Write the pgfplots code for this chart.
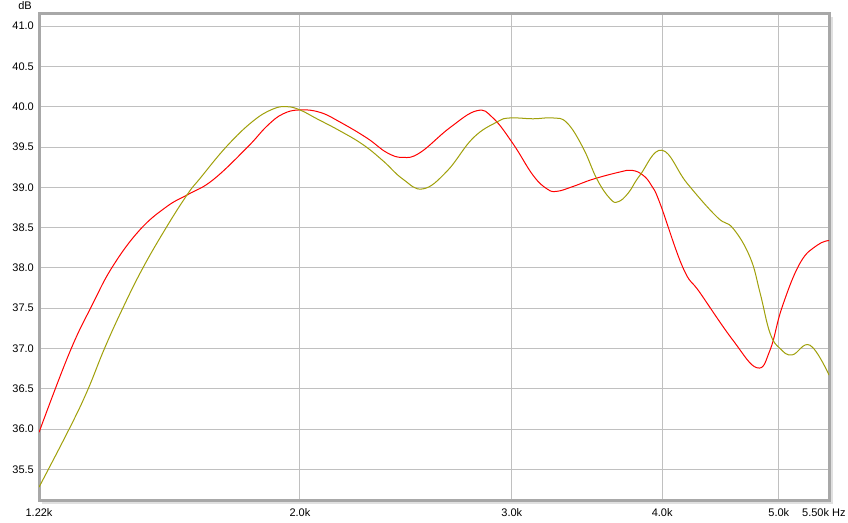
\documentclass[border=0pt]{standalone}
\usepackage{pgfplots}
\pgfplotsset{compat=1.18}
\usepackage{fontspec}
\setmainfont{Liberation Sans}
\definecolor{olivec}{RGB}{160,160,10}
\definecolor{gridc}{RGB}{192,192,192}
\definecolor{framec}{RGB}{168,168,168}
\begin{document}
\fontsize{11}{13}\selectfont
\begin{tikzpicture}
\useasboundingbox (-39pt,-22pt) rectangle (809pt,500pt);
% shadow of frame
\fill[black!12] (3pt,-4pt) rectangle (794pt,483pt);
\fill[white] (0pt,0pt) rectangle (790pt,486pt);
\begin{axis}[
  at={(0pt,0pt)}, anchor=south west,
  scale only axis, width=790pt, height=486pt,
  xmode=log, xmin=1214, xmax=5505,
  ymin=35.12, ymax=41.15,
  xtick={1214,2000,3000,4000,5000,5505},
  xticklabels={1.22k,2.0k,3.0k,4.0k,5.0k,{\makebox[0pt][r]{5.50k}\makebox[0pt][l]{\ Hz}}},
  ytick={35.5,36,36.5,37,37.5,38,38.5,39,39.5,40,40.5,41},
  y tick label style={/pgf/number format/fixed, /pgf/number format/fixed zerofill, /pgf/number format/precision=1},
  /pgf/number format/assume math mode=true,
  major tick length=0pt,
  grid=major,
  major grid style={gridc, line width=0.9pt},
  axis line style={framec, line width=3pt},
  xticklabel style={inner sep=0pt, yshift=-8pt},
  yticklabel style={inner sep=0pt, xshift=-5pt},
  clip=true,
  every axis plot/.append style={line width=1pt},
]
\addplot[red, smooth, tension=0.7] coordinates {
(1214,35.96) (1287,36.95) (1345,37.55) (1398,38.02) (1472,38.47) (1550,38.76)
(1614,38.91) (1693,39.09) (1807,39.49) (1878,39.76) (1936,39.91)
(2000,39.96) (2078,39.93) (2159,39.81) (2274,39.61) (2362,39.43) (2436,39.37)
(2517,39.43) (2665,39.74) (2806,39.95) (2894,39.86) (3007,39.54) (3124,39.15)
(3209,38.98) (3271,38.95) (3373,39.01) (3504,39.10) (3690,39.19)
(3776,39.21) (3856,39.15) (3920,39.02) (3984,38.80) (4163,38.00) (4301,37.69) (4581,37.10)
(4797,36.76) (4917,36.98) (5031,37.51) (5208,38.06) (5380,38.28) (5505,38.34)
};
\addplot[olivec, smooth, tension=0.7] coordinates {
(1214,35.28) (1287,36.01) (1332,36.48) (1376,37.00) (1425,37.50) (1481,38.00)
(1550,38.51) (1614,38.92) (1652,39.11) (1739,39.51) (1828,39.82) (1899,39.97)
(1951,40.00) (2000,39.96) (2066,39.85) (2159,39.70) (2256,39.53) (2344,39.33)
(2436,39.10) (2531,38.98) (2650,39.20) (2785,39.61) (2916,39.81)
(2989,39.86) (3124,39.85) (3246,39.86) (3334,39.80) (3438,39.49) (3531,39.10)
(3620,38.86) (3676,38.82) (3750,38.93) (3834,39.15) (3999,39.46) (4195,39.05) (4443,38.63)
(4581,38.49) (4733,38.13) (4824,37.69) (4917,37.19) (5012,37.00) (5129,36.92)
(5308,37.04) (5505,36.67)
};
\end{axis}
\node[anchor=east, inner sep=0pt] at (-7pt,494pt) {dB};
\end{tikzpicture}
\end{document}
